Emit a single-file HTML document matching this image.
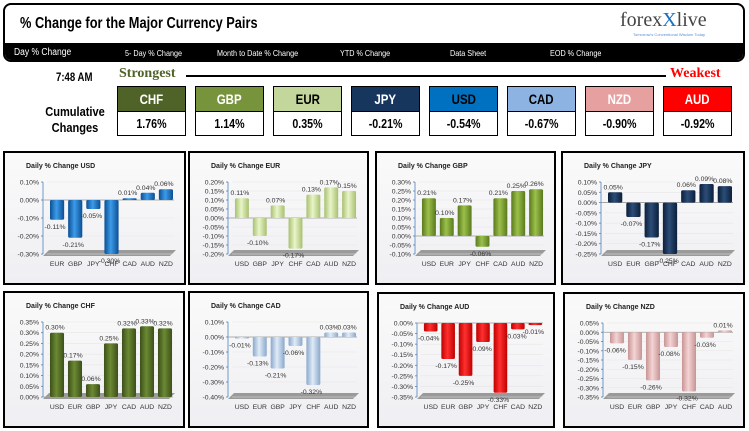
<!DOCTYPE html>
<html><head><meta charset="utf-8">
<style>
body{margin:0;width:749px;height:431px;background:#fff;font-family:"Liberation Sans",sans-serif;overflow:hidden;position:relative}
.abs{position:absolute}
.hdr{left:3px;top:3px;width:738px;height:55px;border:2px solid #000;border-radius:8px;background:#fff;overflow:hidden}
.nav{left:0;top:38px;width:738px;height:17px;background:#000;color:#fff;font-size:8.5px}
.nav span{position:absolute;top:5px;transform:scaleX(.85);transform-origin:left}
.cbox{width:67px;height:48px;border:1px solid #000}
.cbox .h{height:24px;border-bottom:1px solid #000;font:bold 14px "Liberation Sans",sans-serif;text-align:center;line-height:24px}
.cbox .v{height:23px;font:bold 13px "Liberation Sans",sans-serif;text-align:center;line-height:23px;background:#fff}
.cbox span{display:inline-block;transform:scaleX(.82)}
.panel{border:2px solid #000;box-sizing:border-box;background:linear-gradient(#fafafa,#efeff3)}
</style></head><body>
<div class="abs hdr">
 <div class="abs" style="left:15px;top:10px;font:bold 16px 'Liberation Sans',sans-serif;transform:scaleX(.8);transform-origin:left;white-space:nowrap">% Change for the Major Currency Pairs</div>
 <div class="abs" style="left:615px;top:4px;font:20px 'Liberation Serif',serif;color:#444">forex<span style="color:#1a6fc0">X</span>live</div>
 <div class="abs" style="left:628px;top:27px;font-size:4px;color:#5a8fd0">Tomorrow's Conventional Wisdom Today</div>
 <div class="abs nav">
  <span style="left:9px;top:4px;font-size:10px">Day % Change</span>
  <span style="left:120px">5- Day % Change</span>
  <span style="left:212px">Month to Date % Change</span>
  <span style="left:335px">YTD % Change</span>
  <span style="left:445px">Data Sheet</span>
  <span style="left:545px">EOD % Change</span>
 </div>
</div>
<div class="abs" style="left:56px;top:70px;font:bold 12px 'Liberation Sans',sans-serif;transform:scaleX(.8);transform-origin:left;white-space:nowrap">7:48 AM</div>
<div class="abs" style="left:119px;top:66px;font:bold 14px 'Liberation Serif',serif;color:#4f6228">Strongest</div>
<div class="abs" style="left:186px;top:75px;width:480px;height:2px;background:#000"></div>
<div class="abs" style="left:670px;top:66px;font:bold 14px 'Liberation Serif',serif;color:#ff0000">Weakest</div>
<div class="abs" style="left:30px;top:104px;width:90px;text-align:center;font:bold 13px/16px 'Liberation Sans',sans-serif;transform:scaleX(.85)">Cumulative Changes</div>
<div id="boxes"></div>
<div id="panels"></div>
<script>
const boxNames=["CHF","GBP","EUR","JPY","USD","CAD","NZD","AUD"];
const boxValues=["1.76%","1.14%","0.35%","-0.21%","-0.54%","-0.67%","-0.90%","-0.92%"];
const boxColors=[["#4f6228","#fff"],["#77933c","#fff"],["#c3d69b","#000"],["#17365d","#fff"],["#0070c0","#000"],["#8db3e2","#000"],["#e6a0a0","#fff"],["#ff0000","#fff"]];
const bc=document.getElementById('boxes');
boxNames.forEach((n,i)=>{
 const d=document.createElement('div');
 d.className='abs cbox';
 
 
 d.style.left=(117+i*78)+'px';d.style.top='86px';
 d.innerHTML='<div class="h" style="background:'+boxColors[i][0]+';color:'+boxColors[i][1]+'"><span>'+n+'</span></div><div class="v"><span>'+boxValues[i]+'</span></div>';
 bc.appendChild(d);
});

const titles=["USD","EUR","GBP","JPY","CHF","CAD","AUD","NZD"];
const cats={
USD:["EUR","GBP","JPY","CHF","CAD","AUD","NZD"],
EUR:["USD","GBP","JPY","CHF","CAD","AUD","NZD"],
GBP:["USD","EUR","JPY","CHF","CAD","AUD","NZD"],
JPY:["USD","EUR","GBP","CHF","CAD","AUD","NZD"],
CHF:["USD","EUR","GBP","JPY","CAD","AUD","NZD"],
CAD:["USD","EUR","GBP","JPY","CHF","AUD","NZD"],
AUD:["USD","EUR","GBP","JPY","CHF","CAD","NZD"],
NZD:["USD","EUR","GBP","JPY","CHF","CAD","AUD"]};
const valsUSD=[-0.11,-0.21,-0.05,-0.30,0.01,0.04,0.06];
const valsEUR=[0.11,-0.10,0.07,-0.17,0.13,0.17,0.15];
const valsGBP=[0.21,0.10,0.17,-0.06,0.21,0.25,0.26];
const valsJPY=[0.05,-0.07,-0.17,-0.25,0.06,0.09,0.08];
const valsCHF=[0.30,0.17,0.06,0.25,0.32,0.33,0.32];
const valsCAD=[-0.01,-0.13,-0.21,-0.06,-0.32,0.03,0.03];
const valsAUD=[-0.04,-0.17,-0.25,-0.09,-0.33,-0.03,-0.01];
const valsNZD=[-0.06,-0.15,-0.26,-0.08,-0.32,-0.03,0.01];
const axisMax=[0.10,0.20,0.30,0.10,0.35,0.10,0.00,0.05];
const axisMin=[-0.30,-0.20,-0.10,-0.25,0.00,-0.40,-0.35,-0.35];
const axisStep=[0.10,0.05,0.05,0.05,0.05,0.10,0.05,0.05];
const allVals=[valsUSD,valsEUR,valsGBP,valsJPY,valsCHF,valsCAD,valsAUD,valsNZD];
const colors=[["#0b4f94","#3d9be8"],["#a8c070","#e9f5c8"],["#5a7a1e","#9cc04a"],["#0b1f3a","#2c4d78"],["#3c4f1a","#6b8a32"],["#8aa8cc","#e0ebf7"],["#c00000","#ff3030"],["#c89494","#f4d4d4"]];
const panels=[[3,151,183,134],[188,151,181,134],[375,151,181,134],[561,151,184,134],[3,291,182,137],[188,291,181,137],[377,292,178,136],[563,292,182,136]];
const NS="http://www.w3.org/2000/svg";
const pc=document.getElementById('panels');
function mk(t,a,p){const e=document.createElementNS(NS,t);for(const k in a)e.setAttribute(k,a[k]);p.appendChild(e);return e;}
titles.forEach((t,pi)=>{
 const [px,py,pw,ph]=panels[pi];
 const div=document.createElement('div');
 div.className='abs panel';
 
 
 div.style.cssText+='left:'+px+'px;top:'+py+'px;width:'+pw+'px;height:'+ph+'px';
 pc.appendChild(div);
 const svg=document.createElementNS(NS,'svg');
 svg.setAttribute('width',pw-4);svg.setAttribute('height',ph-4);
 svg.style.position='absolute';svg.style.left='0';svg.style.top='0';
 div.appendChild(svg);
 const defs=mk('defs',{},svg);
 const g=mk('linearGradient',{id:'g'+pi,x1:0,x2:1,y1:0,y2:0},defs);
 mk('stop',{offset:'0',"stop-color":colors[pi][0]},g);
 mk('stop',{offset:'0.45',"stop-color":colors[pi][1]},g);
 mk('stop',{offset:'1',"stop-color":colors[pi][0]},g);
 const tt=mk('text',{x:21,y:15,"font-size":"7","font-weight":"bold",fill:"#222"},svg);
 tt.textContent='Daily % Change '+t;
 
 
 const top=29, bot=ph-4-29, ax=38, right=pw-4-10;
 const mx=axisMax[pi], mn=axisMin[pi], st=axisStep[pi];
 const y=v=>top+(mx-v)/(mx-mn)*(bot-top);
 const n=Math.round((mx-mn)/st);
 const fl=mk('polygon',{points:(ax)+','+(bot+2)+' '+(ax+6)+','+(bot-4)+' '+(right+2)+','+(bot-4)+' '+(right-4)+','+(bot+2),fill:"#9a9a9a"},svg);
 
 
 for(let i=0;i<=n;i++){
  const v=mx-i*st, yy=y(v);
  mk('line',{x1:ax+4,x2:right,y1:yy,y2:yy,stroke:"#e6e6e6","stroke-width":0.6},svg);
  mk('line',{x1:ax-2,x2:ax,y1:yy,y2:yy,stroke:"#4f81bd","stroke-width":0.8},svg);
  const tl=mk('text',{x:ax-4,y:yy+2.5,"font-size":"6.8","text-anchor":"end",fill:"#333"},svg);
  tl.textContent=v.toFixed(2).replace('-0.00','0.00')+'%';
  
  
 }
 mk('line',{x1:ax,x2:ax,y1:top,y2:bot,stroke:"#4f81bd","stroke-width":0.8},svg);
 const zy=y(Math.min(Math.max(0,mn),mx));
 mk('line',{x1:ax,x2:right,y1:zy,y2:zy,stroke:"#999","stroke-width":0.8},svg);
 const vals=allVals[pi], cs=cats[t];
 const slot=(right-ax-4)/vals.length;
 vals.forEach((v,i)=>{
  const cx=ax+5+slot*(i+0.5), bw=slot*0.78;
  const y0=y(0), y1=y(v);
  const r=mk('rect',{x:cx-bw/2,y:Math.min(y0,y1),width:bw,height:Math.max(1.5,Math.abs(y1-y0)),fill:'url(#g'+pi+')',rx:1.5},svg);
  
  
  const lb=mk('text',{x:cx-2,y:v>=0?y1-3:y1+9,"font-size":"6.8","text-anchor":"middle",fill:"#333"},svg);
  lb.textContent=v.toFixed(2)+'%';
  
  
  const cl=mk('text',{x:cx,y:bot+12,"font-size":"6.8","text-anchor":"middle",fill:"#333"},svg);
  cl.textContent=cs[i];
  
  
 });
});
</script>
</body></html>
